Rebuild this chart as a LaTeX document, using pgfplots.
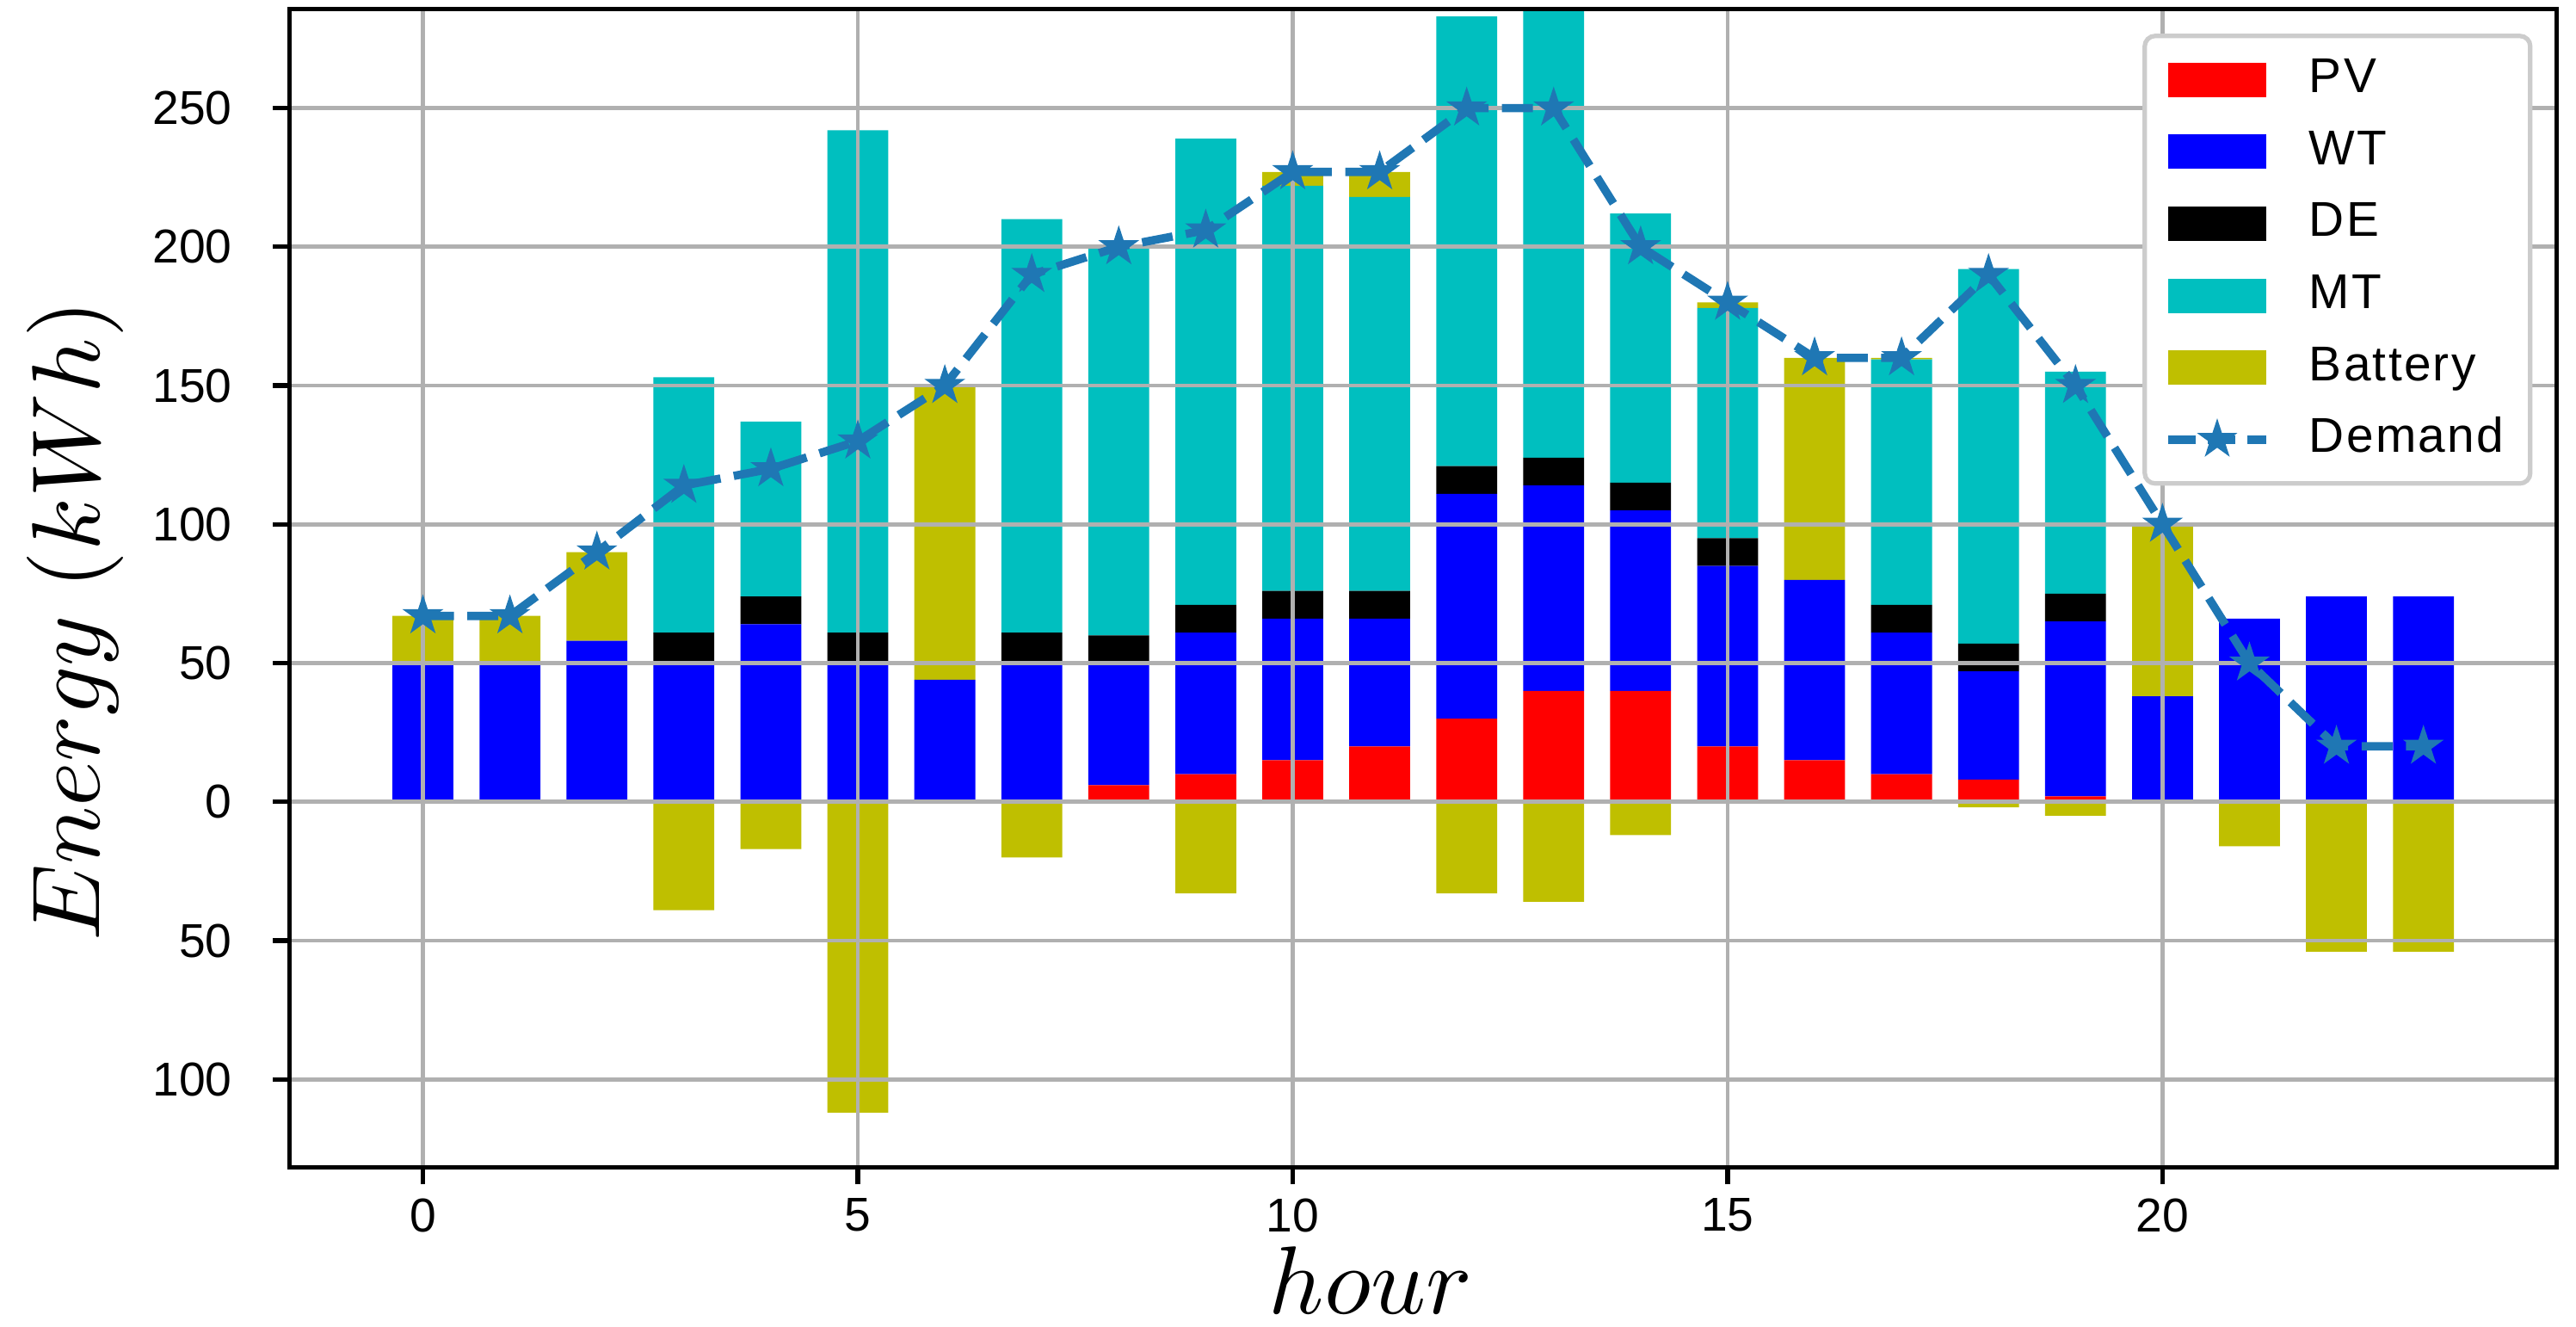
\documentclass[border=0pt]{standalone}
\DeclareFontFamily{OML}{cmm}{\skewchar\font'177}
\DeclareFontShape{OML}{cmm}{m}{it}{<->cmmi10}{}
\DeclareFontShape{OML}{cmm}{b}{it}{<->cmmib10}{}
\DeclareFontFamily{OT1}{cmr}{\hyphenchar\font45}
\DeclareFontShape{OT1}{cmr}{m}{n}{<->cmr10}{}
\DeclareFontShape{OT1}{cmr}{m}{it}{<->cmti10}{}
\DeclareFontShape{OT1}{cmr}{bx}{n}{<->cmbx10}{}
\usepackage{fontspec}
\setmainfont{Liberation Sans}
\newfontfamily\legfont[LetterSpace=4]{Liberation Sans}
\usepackage{pgfplots}
\pgfplotsset{compat=1.18}
\usepackage{pgfplotstable}
\definecolor{pvred}{HTML}{FF0000}
\definecolor{wtblue}{HTML}{0000FF}
\definecolor{mtcyan}{HTML}{00BFBF}
\definecolor{batyel}{HTML}{BFBF00}
\definecolor{demblue}{HTML}{1F77B4}
\definecolor{gridgray}{HTML}{B0B0B0}
\definecolor{leggray}{HTML}{CCCCCC}

\pgfdeclareplotmark{fstar}{%
  \pgfpathmoveto{\pgfpointpolar{90}{\pgfplotmarksize}}%
  \pgfpathlineto{\pgfpointpolar{126}{0.382\pgfplotmarksize}}%
  \pgfpathlineto{\pgfpointpolar{162}{\pgfplotmarksize}}%
  \pgfpathlineto{\pgfpointpolar{198}{0.382\pgfplotmarksize}}%
  \pgfpathlineto{\pgfpointpolar{234}{\pgfplotmarksize}}%
  \pgfpathlineto{\pgfpointpolar{270}{0.382\pgfplotmarksize}}%
  \pgfpathlineto{\pgfpointpolar{306}{\pgfplotmarksize}}%
  \pgfpathlineto{\pgfpointpolar{342}{0.382\pgfplotmarksize}}%
  \pgfpathlineto{\pgfpointpolar{18}{\pgfplotmarksize}}%
  \pgfpathlineto{\pgfpointpolar{54}{0.382\pgfplotmarksize}}%
  \pgfpathclose
  \pgfusepathqfillstroke
}

\pgfplotstableread{
hour PV WT DE MT BatP BatN Dem
0  0  50 0  0   17  0    67
1  0  50 0  0   17  0    67
2  0  58 0  0   32  0    90
3  0  50 11 92  0   -39  114
4  0  64 10 63  0   -17  120
5  0  50 11 181 0   -112 130
6  0  44 0  0   106 0    150
7  0  50 11 149 0   -20  190
8  6  44 10 140 0   0    200
9  10 51 10 168 0   -33  206
10 15 51 10 146 5   0    227
11 20 46 10 142 9   0    227
12 30 81 10 162 0   -33  250
13 40 74 10 162 0   -36  250
14 40 65 10 97  0   -12  200
15 20 65 10 83  2   0    180
16 15 65 0  0   80  0    160
17 10 51 10 88.4 0.6 0   160
18 8  39 10 135 0   -2   190
19 2  63 10 80  0   -5   150
20 0  38 0  0   62  0    100
21 0  66 0  0   0   -16  50
22 0  74 0  0   0   -54  20
23 0  74 0  0   0   -54  20
}\energydata

\pgfplotsset{
  common/.style={
    at={(0,0)}, anchor=south west,
    width=658.85pt, height=336.5pt, scale only axis,
    xmin=-1.535, xmax=24.535, ymin=-131.8, ymax=285.6,
  },
  barleg/.style={legend image code/.code={%
    \pgfpathrectangle{\pgfpoint{0pt}{-5pt}}{\pgfpoint{28.7pt}{10pt}}\pgfusepath{use as bounding box}%
    \fill[##1, sharp corners] (0pt,-5pt) rectangle (28.7pt,5pt);}},
  demleg/.style={legend image code/.code={%
    \draw[##1, sharp corners] (0pt,0pt) -- (28.7pt,0pt);%
    \path[##1, draw=none, fill=none] plot coordinates {(14.35pt,0pt)};}},
}

\begin{document}
\begin{tikzpicture}
\useasboundingbox (-84.1pt,-46.05pt) rectangle (664.4pt,339.2pt);

% negative battery (charging) bars
\begin{axis}[common, hide axis, ybar, bar width=0.7]
\addplot[fill=batyel, draw=none] table[x=hour, y=BatN] {\energydata};
\end{axis}

% main stacked bars
\begin{axis}[common,
  ybar stacked, bar width=0.7,
  axis on top,
  grid=major, grid style={line width=1.2pt, gridgray},
  axis line style={line width=1.3pt, black},
  tick align=outside, tick pos=left,
  major tick length=4.8pt,
  tick style={line width=1.3pt, black},
  /pgf/number format/assume math mode=true,
  xtick={0,5,10,15,20}, xticklabels={0,5,10,15,20},
  ytick={-100,-50,0,50,100,150,200,250},
  yticklabels={100,50,0,50,100,150,200,250},
  tick label style={font=\fontsize{13.8}{16}\selectfont},
  yticklabel style={anchor=east, inner sep=0pt, xshift=-11.7pt},
  xticklabel style={anchor=north, inner sep=0pt, yshift=-4pt},
  xlabel={$hour$}, ylabel={$Energy\ (kWh)$},
  label style={font=\fontsize{28}{34}\selectfont, inner sep=0pt},
  xlabel style={at={(axis description cs:0.4769,0)}, anchor=base, yshift=-42.5pt},
  ylabel style={at={(axis description cs:-0.0840,0.472)}, anchor=base},
  legend cell align=left,
  legend style={
    at={(1,1)}, anchor=north east, xshift=-7.1pt, yshift=-7.1pt,
    draw=leggray, line width=1.3pt, rounded corners=3pt, fill=white,
    inner xsep=5.5pt, inner ysep=6pt,
    font=\legfont\fontsize{14.2}{17}\selectfont,
    row sep=7.4pt,
    nodes={inner sep=0pt, text height=10.5pt, text depth=3pt},
    /tikz/every odd column/.append style={column sep=11.2pt},
  },
]
\addplot[fill=pvred, draw=none, barleg] table[x=hour, y=PV] {\energydata};
\addlegendentry{PV}
\addplot[fill=wtblue, draw=none, barleg] table[x=hour, y=WT] {\energydata};
\addlegendentry{WT}
\addplot[fill=black, draw=none, barleg] table[x=hour, y=DE] {\energydata};
\addlegendentry{DE}
\addplot[fill=mtcyan, draw=none, barleg] table[x=hour, y=MT] {\energydata};
\addlegendentry{MT}
\addplot[fill=batyel, draw=none, barleg] table[x=hour, y=BatP] {\energydata};
\addlegendentry{Battery}
\addlegendimage{demblue, line width=2.4pt, dash pattern=on 8pt off 3.6pt, mark=fstar, mark size=5.2pt, mark options={solid, fill=demblue, line width=0.6pt, sharp corners}, demleg}
\addlegendentry{Demand\hspace*{2.2pt}}
\end{axis}

% demand line
\begin{axis}[common, hide axis]
\addplot[demblue, line width=2.4pt, dash pattern=on 9pt off 3.9pt, mark=fstar, mark size=5.3pt, mark options={solid, fill=demblue, line width=0.6pt}] table[x=hour, y=Dem] {\energydata};
\end{axis}
\end{tikzpicture}
\end{document}
